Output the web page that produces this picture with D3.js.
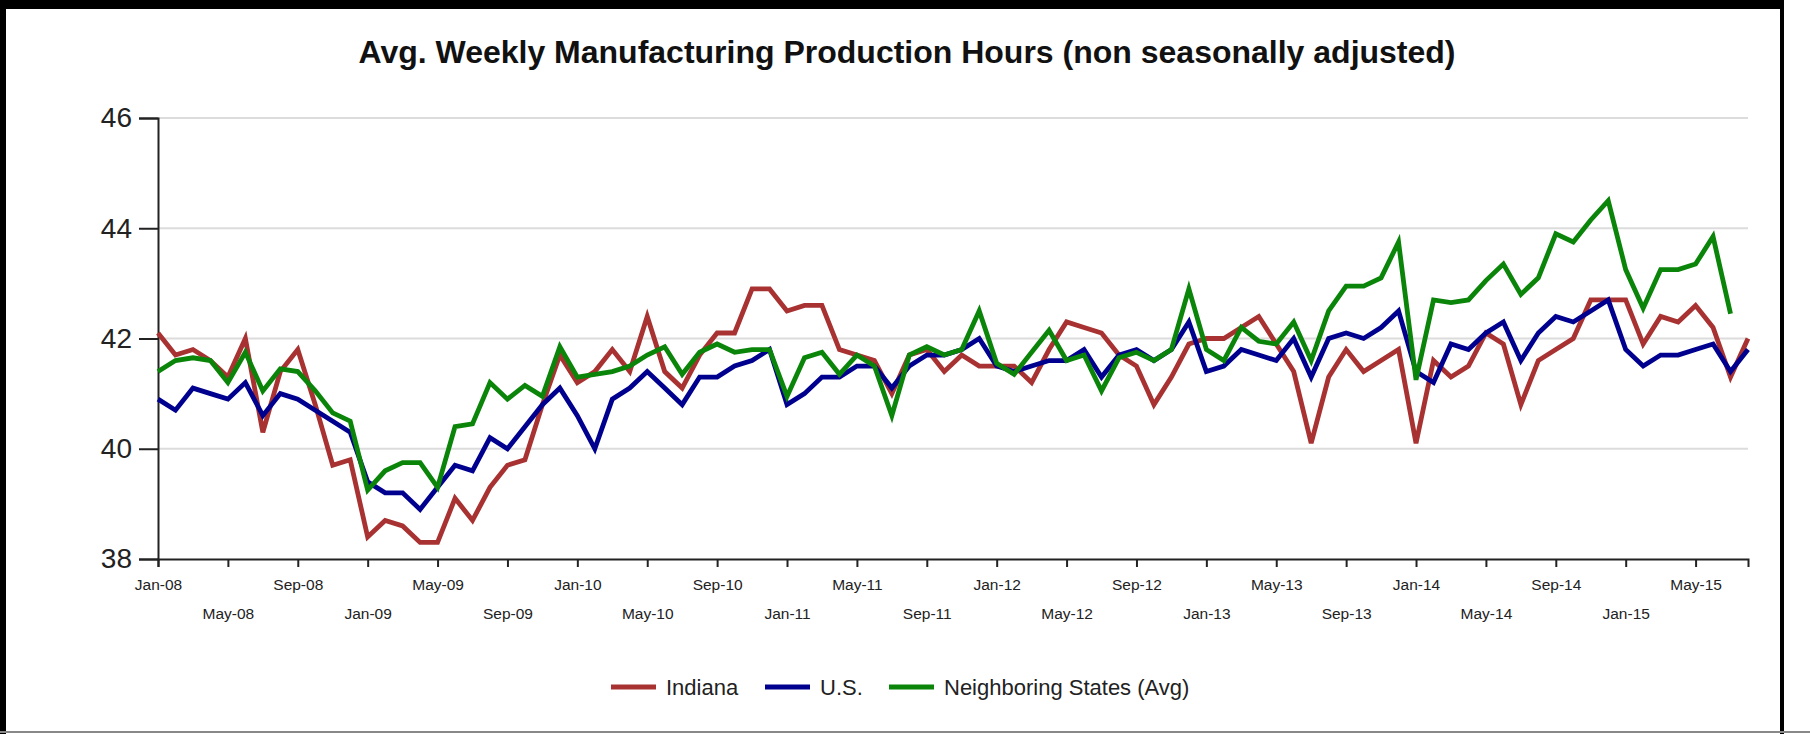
<!DOCTYPE html>
<html>
<head>
<meta charset="utf-8">
<script src="https://cdn.jsdelivr.net/npm/d3@7"></script>
<style>
  html, body { margin: 0; padding: 0; background: #fff; }
  svg { display: block; font-family: "Liberation Sans", Arial, sans-serif; }
</style>
</head>
<body>
<div id="chart"></div>
<script>
// months Jan-08 .. Aug-15
const months = d3.timeMonth.range(new Date(2008, 0, 1), new Date(2015, 8, 1));

const indiana = [
  42.1, 41.7, 41.8, 41.6, 41.3, 42.0, 40.3, 41.4, 41.8, 40.8, 39.7, 39.8,
  38.4, 38.7, 38.6, 38.3, 38.3, 39.1, 38.7, 39.3, 39.7, 39.8, 40.8, 41.7,
  41.2, 41.4, 41.8, 41.4, 42.4, 41.4, 41.1, 41.7, 42.1, 42.1, 42.9, 42.9,
  42.5, 42.6, 42.6, 41.8, 41.7, 41.6, 41.0, 41.7, 41.8, 41.4, 41.7, 41.5,
  41.5, 41.5, 41.2, 41.8, 42.3, 42.2, 42.1, 41.7, 41.5, 40.8, 41.3, 41.9,
  42.0, 42.0, 42.2, 42.4, 41.9, 41.4, 40.1, 41.3, 41.8, 41.4, 41.6, 41.8,
  40.1, 41.6, 41.3, 41.5, 42.1, 41.9, 40.8, 41.6, 41.8, 42.0, 42.7, 42.7,
  42.7, 41.9, 42.4, 42.3, 42.6, 42.2, 41.3, 42.0
];

const us = [
  40.9, 40.7, 41.1, 41.0, 40.9, 41.2, 40.6, 41.0, 40.9, 40.7, 40.5, 40.3,
  39.4, 39.2, 39.2, 38.9, 39.3, 39.7, 39.6, 40.2, 40.0, 40.4, 40.8, 41.1,
  40.6, 40.0, 40.9, 41.1, 41.4, 41.1, 40.8, 41.3, 41.3, 41.5, 41.6, 41.8,
  40.8, 41.0, 41.3, 41.3, 41.5, 41.5, 41.1, 41.5, 41.7, 41.7, 41.8, 42.0,
  41.5, 41.4, 41.5, 41.6, 41.6, 41.8, 41.3, 41.7, 41.8, 41.6, 41.8, 42.3,
  41.4, 41.5, 41.8, 41.7, 41.6, 42.0, 41.3, 42.0, 42.1, 42.0, 42.2, 42.5,
  41.4, 41.2, 41.9, 41.8, 42.1, 42.3, 41.6, 42.1, 42.4, 42.3, 42.5, 42.7,
  41.8, 41.5, 41.7, 41.7, 41.8, 41.9, 41.4, 41.8
];

// neighboring states average (no Aug-15 value)
const neighbors = [
  41.4, 41.6, 41.65, 41.6, 41.2, 41.75, 41.05, 41.45, 41.4, 41.05, 40.65, 40.5,
  39.25, 39.6, 39.75, 39.75, 39.3, 40.4, 40.45, 41.2, 40.9, 41.15, 40.95, 41.85,
  41.3, 41.35, 41.4, 41.5, 41.7, 41.85, 41.35, 41.75, 41.9, 41.75, 41.8, 41.8,
  40.95, 41.65, 41.75, 41.35, 41.7, 41.5, 40.6, 41.7, 41.85, 41.7, 41.8, 42.5,
  41.55, 41.35, 41.75, 42.15, 41.6, 41.7, 41.05, 41.65, 41.75, 41.6, 41.8, 42.9,
  41.8, 41.6, 42.2, 41.95, 41.9, 42.3, 41.6, 42.5, 42.95, 42.95, 43.1, 43.75,
  41.25, 42.7, 42.65, 42.7, 43.05, 43.35, 42.8, 43.1, 43.9, 43.75, 44.15, 44.5,
  43.25, 42.55, 43.25, 43.25, 43.35, 43.85, 42.45
];

const series = [
  {name: "Indiana", values: indiana, color: "#a83232"},
  {name: "U.S.", values: us, color: "#00008f"},
  {name: "Neighboring States (Avg)", values: neighbors, color: "#0a850a"}
];

const yTicks = [38, 40, 42, 44, 46];
const title = "Avg. Weekly Manufacturing Production Hours (non seasonally adjusted)";

const width = 1810, height = 734;
const margin = {top: 118, right: 62, bottom: 175, left: 158};

const svg = d3.select("#chart").append("svg")
    .attr("width", width)
    .attr("height", height);

// frame
svg.append("rect")
    .attr("x", 0).attr("y", 0)
    .attr("width", 1784).attr("height", 9)
    .attr("fill", "#000");
svg.append("rect")
    .attr("x", 0).attr("y", 0)
    .attr("width", 6).attr("height", height)
    .attr("fill", "#000");
svg.append("rect")
    .attr("x", 1780).attr("y", 0)
    .attr("width", 4).attr("height", height)
    .attr("fill", "#000");
svg.append("line")
    .attr("x1", 0).attr("x2", width)
    .attr("y1", 732).attr("y2", 732)
    .attr("stroke", "#888").attr("stroke-width", 2);

const x = d3.scalePoint()
    .domain(months.map(d => +d))
    .range([margin.left, width - margin.right]);

const y = d3.scaleLinear()
    .domain([38, 46])
    .range([height - margin.bottom, margin.top]);

// title
svg.append("text")
    .attr("x", 907)
    .attr("y", 63)
    .attr("text-anchor", "middle")
    .attr("font-size", 32)
    .attr("font-weight", "bold")
    .attr("fill", "#111")
    .text(title);

// gridlines
svg.append("g")
  .selectAll("line")
  .data(yTicks.filter(d => d > 38))
  .join("line")
    .attr("x1", margin.left)
    .attr("x2", width - margin.right)
    .attr("y1", d => y(d))
    .attr("y2", d => y(d))
    .attr("stroke", "#dcdcdc")
    .attr("stroke-width", 2);

// y axis
const yAxis = svg.append("g")
    .attr("transform", `translate(${margin.left},0)`)
    .call(d3.axisLeft(y).tickValues(yTicks).tickSize(19).tickPadding(7));
yAxis.select(".domain").attr("stroke", "#222").attr("stroke-width", 2);
yAxis.selectAll(".tick line").attr("stroke", "#222").attr("stroke-width", 2);
yAxis.selectAll("text")
    .attr("font-size", 28)
    .attr("font-family", "Liberation Sans, Arial, sans-serif")
    .attr("fill", "#222");

// x axis, tick every 4 months, labels staggered on two rows
const tickMonths = months.filter((d, i) => i % 4 === 0);
const fmt = d3.timeFormat("%b-%y");
const xAxis = svg.append("g")
    .attr("transform", `translate(0,${y(38)})`)
    .call(d3.axisBottom(x).tickValues(tickMonths.map(d => +d)).tickSize(8).tickFormat(d => fmt(new Date(d))));
xAxis.select(".domain").attr("stroke", "#222").attr("stroke-width", 2);
xAxis.selectAll(".tick line").attr("stroke", "#222").attr("stroke-width", 2);
xAxis.selectAll("text")
    .attr("font-size", 15.5)
    .attr("font-family", "Liberation Sans, Arial, sans-serif")
    .attr("fill", "#222")
    .attr("y", (d, i) => i % 2 === 0 ? 20 : 49);

// lines
const line = d3.line()
    .x((d, i) => x(+months[i]))
    .y(d => y(d));

svg.append("g")
  .selectAll("path")
  .data(series)
  .join("path")
    .attr("fill", "none")
    .attr("stroke", d => d.color)
    .attr("stroke-width", 4.8)
    .attr("stroke-linejoin", "miter")
    .attr("d", d => line(d.values));

// legend
const legendX = [611, 765, 889];
const legend = svg.append("g")
  .selectAll("g")
  .data(series)
  .join("g")
    .attr("transform", (d, i) => `translate(${legendX[i]},687)`);
legend.append("line")
    .attr("x1", 0).attr("x2", 45)
    .attr("stroke", d => d.color)
    .attr("stroke-width", 5);
legend.append("text")
    .attr("x", 55)
    .attr("dy", "0.35em")
    .attr("font-size", 22)
    .attr("fill", "#222")
    .text(d => d.name);
</script>
</body>
</html>
